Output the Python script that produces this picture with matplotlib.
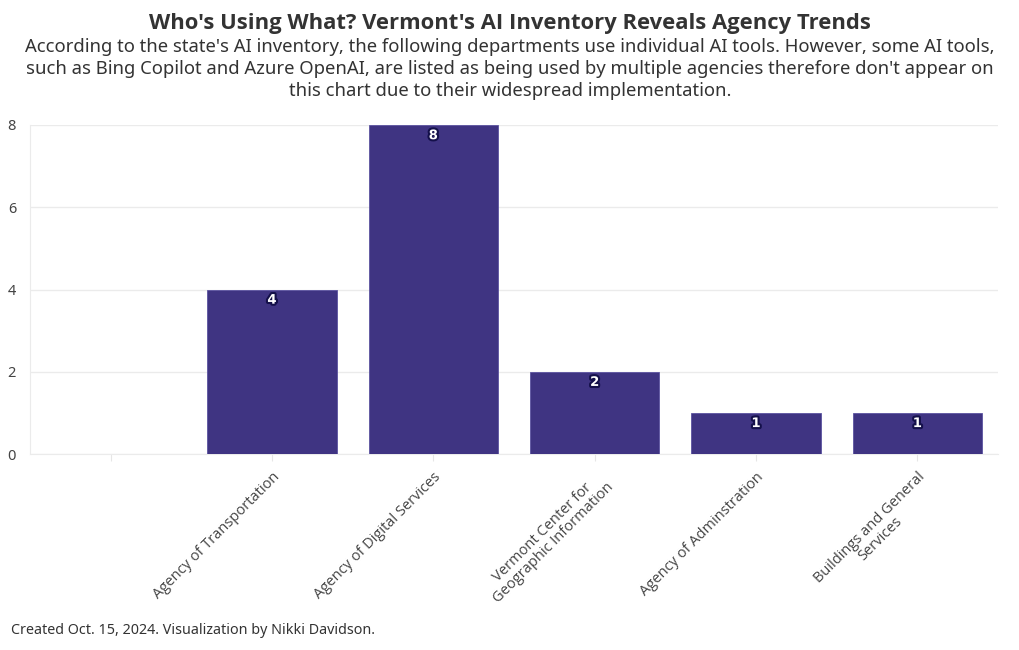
import matplotlib
matplotlib.use("Agg")
import matplotlib.pyplot as plt
import matplotlib.patheffects as pe

categories = ["", "Agency of Transportation", "Agency of Digital Services",
              "Vermont Center for\nGeographic Information", "Agency of Adminstration",
              "Buildings and General\nServices"]
values = [0, 4, 8, 2, 1, 1]
yticks = [0, 2, 4, 6, 8]

title = "Who's Using What? Vermont's AI Inventory Reveals Agency Trends"
subtitle = ("According to the state's AI inventory, the following departments use individual AI tools. However, some AI tools,\n"
            "such as Bing Copilot and Azure OpenAI, are listed as being used by multiple agencies therefore don't appear on\n"
            "this chart due to their widespread implementation.")
footer = "Created Oct. 15, 2024. Visualization by Nikki Davidson."

plt.rcParams['font.family'] = ['Noto Sans', 'DejaVu Sans']

fig = plt.figure(figsize=(10.2, 6.5), dpi=100)
ax = fig.add_axes([30/1020, 1-454/650, (998-30)/1020, (454-125)/650])

x = list(range(len(categories)))
bars = ax.bar(x, values, width=0.8, color="#3b3080", alpha=0.98, edgecolor="#5a52a0", linewidth=0.6, zorder=3)
for xi, v in zip(x, values):
    if v > 0:
        ax.text(xi, v - 0.26, str(v), ha="center", va="center", color="white", fontsize=9.5,
                fontweight="bold", fontfamily=['DejaVu Sans'], zorder=4,
                path_effects=[pe.withStroke(linewidth=3, foreground="#14104a")])

ax.set_xlim(-0.5, 5.5)
ax.set_ylim(0, 8)
ax.set_yticks(yticks)
ax.set_yticklabels([str(t) for t in yticks], fontsize=10.5, color="#444444")
ax.set_xticks(x)
ax.set_xticklabels(categories, rotation=45, ha="right", rotation_mode="anchor",
                   fontsize=10.5, color="#444444", fontfamily=['Open Sans', 'DejaVu Sans'],
                   linespacing=1.05)
for lbl in ax.get_xticklabels():
    lbl.set_multialignment("center")
ax.tick_params(axis="x", length=5, color="#e6e6e6", pad=6)
ax.tick_params(axis="y", length=0, pad=10)
ax.grid(axis="y", color="#ebebeb", linewidth=1, zorder=0)
for s in ["top", "right"]:
    ax.spines[s].set_visible(False)
ax.spines["left"].set_color("#ebebeb")
ax.spines["bottom"].set_color("#ebebeb")

fig.text(0.5, 1-23/650, title, ha="center", va="center", fontsize=15.8, fontweight="bold",
         color="#333333", fontfamily=['Open Sans', 'DejaVu Sans'])
fig.text(0.5, 1-69/650, subtitle, ha="center", va="center", fontsize=13.3, color="#333333", linespacing=1.3)
fig.text(11/1020, 1-631/650, footer, ha="left", va="center", fontsize=10.3, color="#333333")

fig.savefig("out.png", dpi=100)
